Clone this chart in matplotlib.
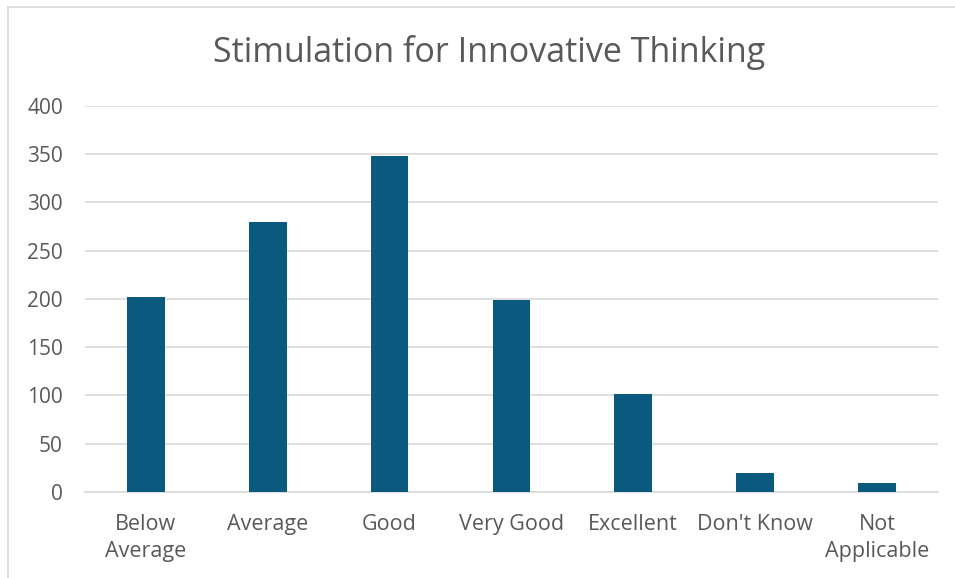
import numpy as np
import matplotlib.pyplot as plt
from matplotlib.lines import Line2D

# Survey responses
categories = ['Below\nAverage', 'Average', 'Good', 'Very Good', 'Excellent', "Don't Know", 'Not\nApplicable']
counts = [202, 280, 348, 199, 101, 20, 9]
yticks = [0, 50, 100, 150, 200, 250, 300, 350, 400]

bar_color = '#0A5A80'
text_color = '#595959'
grid_color = '#D9D9D9'

plt.rcParams['font.family'] = ['Open Sans', 'DejaVu Sans']

fig = plt.figure(figsize=(9.55, 5.78), dpi=100)
ax = fig.add_axes([0.089, 0.149, 0.893, 0.668])

x = np.arange(len(categories))
ax.bar(x, counts, width=0.31, color=bar_color, zorder=3)

ax.set_xlim(-0.5, len(categories) - 0.5)
ax.set_ylim(0, 400)
ax.set_yticks(yticks)
ax.set_xticks(x)
ax.set_xticklabels(categories, fontsize=15.5, color=text_color, linespacing=1.35)
ax.tick_params(axis='y', labelsize=15, labelcolor=text_color, length=0, pad=16)
ax.tick_params(axis='x', length=0, pad=16)

ax.grid(axis='y', color=grid_color, linewidth=1.2, zorder=0)
for s in ['top', 'right', 'left']:
    ax.spines[s].set_visible(False)
ax.spines['bottom'].set_color(grid_color)
ax.spines['bottom'].set_linewidth(1.2)

fig.text(0.512, 0.91, 'Stimulation for Innovative Thinking', ha='center', va='center',
         fontsize=24.5, color=text_color)

# chart frame (top and left edges visible)
fig.add_artist(Line2D([0.008, 1.0], [0.988, 0.988], color='#D9D9D9', linewidth=1.2, transform=fig.transFigure))
fig.add_artist(Line2D([0.008, 0.008], [0.0, 0.988], color='#D9D9D9', linewidth=1.2, transform=fig.transFigure))

fig.savefig('out.png', dpi=100)
